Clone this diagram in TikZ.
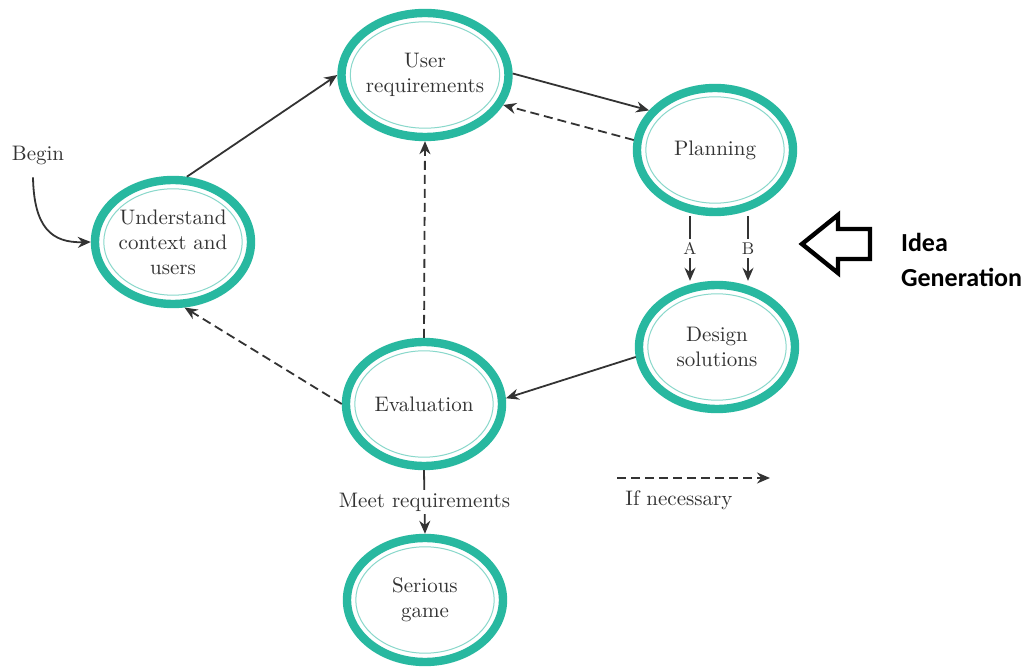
\documentclass[tikz,border=0pt]{standalone}
\usepackage{fontspec}
\newfontfamily\ideafont{Carlito}
\usetikzlibrary{shapes.geometric,calc,arrows.meta}
\definecolor{ringteal}{RGB}{40,184,160}
\definecolor{inkgray}{RGB}{51,51,51}
\begin{document}
\begin{tikzpicture}[x=0.5pt,y=-0.5pt,>={Stealth[length=6.5pt,width=5.5pt]},line join=round,
  font=\fontsize{10.5}{12.5}\selectfont,text=inkgray,
  stage/.style={ellipse,draw=ringteal,line width=4.2pt,fill=white,minimum width=78pt,minimum height=62pt,inner sep=0pt,align=center},
  inring/.style={draw=ringteal!55,line width=0.5pt},
  link/.style={draw=inkgray,line width=0.9pt,->},
  maybe/.style={link,dash pattern=on 4.5pt off 2.5pt},
  tag/.style={fill=white,inner sep=1.6pt,font=\fontsize{8.5}{10}\selectfont}]
\useasboundingbox (0,0) rectangle (1035,668);
\node[stage] (user) at (425,75) {User\\requirements};
\node[stage] (plan) at (715,150) {Planning};
\node[stage] (und) at (173,242) {Understand\\context and\\users};
\node[stage] (design) at (717,347) {Design\\solutions};
\node[stage] (eval) at (424,404) {Evaluation};
\node[stage] (game) at (425,600) {Serious\\game};
\foreach \s in {user,plan,und,design,eval,game}
  \draw[inring] let \p1=(\s.center),\p2=(\s.east),\p3=(\s.north) in (\p1) ellipse [x radius={\x2-\x1-6.5pt},y radius={\y3-\y1-6.5pt}];
\node (begin) at (38,155) {Begin};
\draw[link] ([xshift=-2.5pt,yshift=-3pt]begin.south) .. controls (34,228) and (52,243) .. (und.180);
\draw[link] (und.78) -- (user.180);
\draw[link] (user.1) -- (plan.149);
\draw[maybe] (plan.173) -- (user.339);
\draw[link] ([xshift=-12.5pt]plan.south) -- node[tag]{A} ([xshift=-12.5pt]plan.south |- design.north);
\draw[link] ([xshift=16.5pt]plan.south) -- node[tag]{B} ([xshift=16.5pt]plan.south |- design.north);
\draw[link] (design.187) -- (eval.4);
\draw[maybe] (eval.north) -- (user.south);
\draw[maybe] (eval.180) -- (und.280);
\draw[link] (eval.south) -- node[fill=white,inner sep=1.5pt]{Meet requirements} (game.north);
\coordinate (nec0) at (617,478);
\coordinate (nec1) at (770,478);
\draw[maybe] (nec0) -- (nec1);
\node (nec) at (679,500) {If necessary};
\draw[line width=2.2pt,line join=miter] (802,244) -- (838,215) -- (838,229) -- (870,229) -- (870,259) -- (838,259) -- (838,273) -- cycle;
\node[anchor=west,align=left,text=black,font=\ideafont\bfseries\fontsize{13}{17.5}\selectfont] (idea) at (894,260) {Idea\\Generation};
\end{tikzpicture}
\end{document}
